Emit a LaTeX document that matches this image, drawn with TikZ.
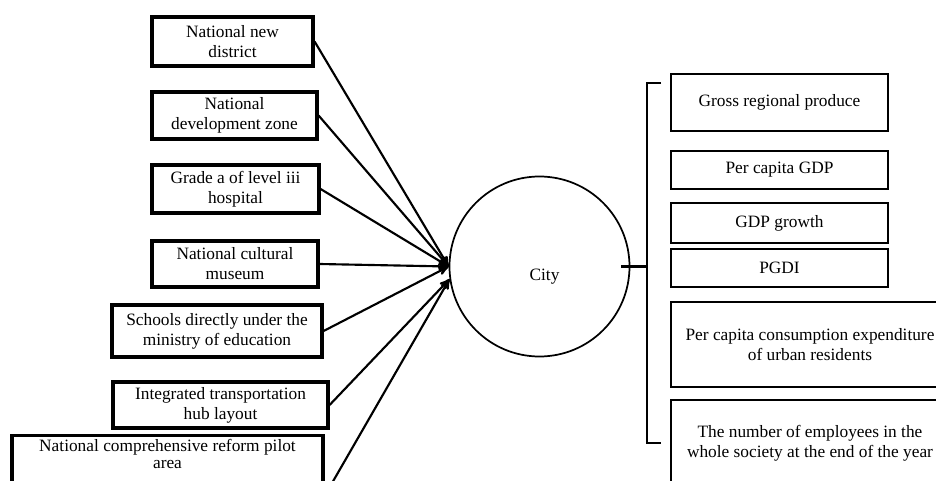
\documentclass[tikz,border=0pt]{standalone}
\usepackage{fontspec}
\setmainfont{Liberation Serif}
\usepackage{tikz}
\usetikzlibrary{calc}
\usetikzlibrary{positioning}
\usetikzlibrary{arrows}
\tikzset{
  factor/.style = {draw=black, line width=2.4pt, align=center, inner sep=0pt,
    text centered, font=\fontsize{13}{15}\selectfont},   % input box
  index/.style = {factor, line width=2.2pt},              % indicator box
  hub/.style = {circle, draw=black, line width=1.3pt, inner sep=0pt,
    minimum size=135pt},                                  % city circle
  link/.style = {->, line width=1.6pt},                   % arrow to city
  bracket/.style = {-, line width=1.6pt}                  % grouping line
}

\begin{document}
\begin{tikzpicture}[x=0.75pt,y=-0.75pt,>=stealth']
    \useasboundingbox (0,0) rectangle (936,481);
    \clip (0,0) rectangle (936,481);
    % left column
    \node [factor, minimum width=120.75pt, minimum height=36.75pt] (B1) at (232.5,41.5) {National new\\district};
    \node [factor, minimum width=123.75pt, minimum height=35.25pt] (B2) at (234.5,115.5) {National\\development zone};
    \node [factor, minimum width=125.25pt, minimum height=36pt] (B3) at (235.5,189) {Grade a of level iii\\hospital};
    \node [factor, minimum width=124.5pt, minimum height=34.5pt] (B4) at (235,264) {National cultural\\museum};
    \node [factor, minimum width=157.5pt, minimum height=39pt] (B5) at (217,331) {Schools directly under the\\ministry of education};
    \node [factor, minimum width=161.25pt, minimum height=34.5pt] (B6) at (220.5,405) {Integrated transportation\\hub layout};
    \node [factor, minimum width=233.25pt, minimum height=44pt,
      font=\fontsize{13}{13}\selectfont] (B7) at (167.5,465) {National comprehensive reform pilot\\area\\[4pt]};
    % city
    \node [hub] (city) at (539.5,266.5) {};
    \node [font=\fontsize{13}{15}\selectfont] (citytext) at ($(city.center)+(5,10)$) {City};
    % right column
    \node [index, minimum width=162.75pt, minimum height=42.75pt] (R1) at (779.5,102.5) {Gross regional produce};
    \node [index, minimum width=162.75pt, minimum height=28.5pt] (R2) at (779.5,170) {Per capita GDP};
    \node [index, minimum width=162.75pt, minimum height=30pt] (R3) at (779.5,223) {GDP growth};
    \node [index, minimum width=162.75pt, minimum height=28.5pt] (R4) at (779.5,268) {PGDI};
    \node [index, minimum width=208.5pt, minimum height=63.75pt] (R5) at (810,344.5) {Per capita consumption expenditure\\of urban residents};
    \node [index, minimum width=208.5pt, minimum height=65.25pt] (R6) at (810,443.5) {The number of employees in the\\whole society at the end of the year};
    % arrows
    \draw [link] (B1.east) -- (city.west);
    \draw [link] (B2.east) -- (city.west);
    \draw [link] (B3.east) -- (city.west);
    \draw [link] (B4.east) -- (city.west);
    \draw [link] (B5.east) -- (city.west);
    \draw [link] (B6.east) -- (city.188);
    \draw [link] (B7.south east) -- (city.188);
    % bracket
    \coordinate (brtop) at (661,83);
    \coordinate (brbot) at (661,443);
    \coordinate (brmid) at (647,266.5);
    \draw [bracket] (brtop) -- ++(-14,0) |- (brbot);
    \draw [bracket] ($(city.east)+(-9,0)$) -- (brmid);
\end{tikzpicture}
\end{document}
